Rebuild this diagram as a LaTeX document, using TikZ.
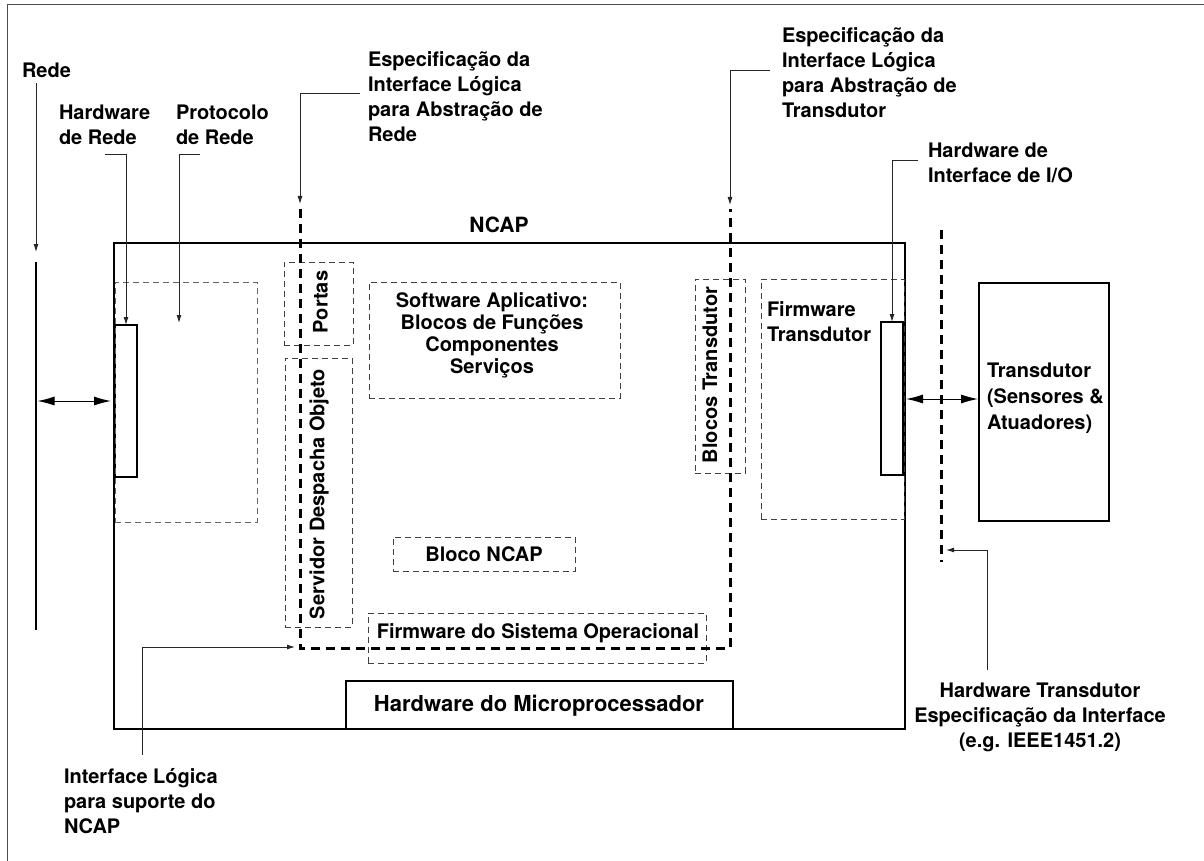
\documentclass[tikz,border=0pt]{standalone}
\usepackage{fontspec}
\setmainfont{TeX Gyre Heros}
\usetikzlibrary{arrows.meta,fit}
\begin{document}
\begin{tikzpicture}[x=1pt,y=-1pt,
  txt/.style={font=\bfseries\fontsize{20}{25}\selectfont, inner sep=0pt, outer sep=0pt},
  solidbox/.style={draw, line width=2pt, inner sep=0pt, outer sep=0pt},
  hwbox/.style={draw, line width=1.8pt, inner sep=0pt, outer sep=0pt},
  dashbox/.style={draw, black!75, line width=0.9pt, dash pattern=on 6pt off 4pt, inner sep=0pt, outer sep=0pt},
  thickdash/.style={line width=3pt, dash pattern=on 9pt off 6pt},
  conn/.style={draw, black!85, line width=0.9pt, -{Latex[length=8pt,width=5pt]}},
  biarrow/.style={line width=1pt, {Latex[length=17pt,width=9pt]}-{Latex[length=17pt,width=9pt]}}
]
\useasboundingbox (0,0) rectangle (1204,861);

% outer frame
\draw[black!70, line width=1pt] (7,861) -- (7,5) -- (1204,5);

% NCAP enclosure and its solid parts
\node[solidbox, fit={(114,243) (905,729)}] (ncap) {};
\node[hwbox, fit={(115,325) (137,477)}] (nethw) {};
\node[hwbox, fit={(881,322) (903,475)}] (iohw) {};
\node[solidbox, fit={(346,681) (733,729)}] (hwmp) {};
\node[draw, line width=1.2pt, inner sep=0pt, outer sep=0pt, fit={(979,283) (1109,521)}] (transd) {};

% dashed functional blocks
\node[dashbox, black!60, fit={(115,282) (257,522)}] (proto) {};
\node[dashbox, fit={(761,279) (904,519)}] (fwtr) {};
\node[dashbox, fit={(284,262) (353,345)}] (portas) {};
\node[dashbox, fit={(285,358) (352,627)}] (servidor) {};
\node[dashbox, fit={(369,282) (620,398)}] (swapp) {};
\node[dashbox, fit={(695,279) (745,473)}] (blocostr) {};
\node[dashbox, fit={(393,537) (575,571)}] (bloconcap) {};
\node[dashbox, fit={(368,613) (706,663)}] (fwos) {};

% network line
\coordinate (netTop) at (36,262);
\coordinate (netBot) at (36,630);
\draw[line width=2.5pt] (netTop) -- (netBot);

% logical interface boundaries (thick dashed)
\coordinate (nsTip) at (300,204);
\coordinate (nsStart) at (300,209);
\coordinate (nsCorner) at (300,648);
\coordinate (tsCorner) at (730,648);
\coordinate (tsStart) at (730,209);
\coordinate (tsTip) at (730,205);
\draw[thickdash] (nsStart) -- (nsCorner) -- (tsCorner) -- (tsStart);
\coordinate (hwiTop) at (941,230);
\coordinate (hwiBot) at (941,562);
\draw[thickdash] (hwiTop) -- (hwiBot);

% texts inside the NCAP
\node[txt, font=\bfseries\fontsize{21}{25}\selectfont, anchor=base] (tNcap) at (499,233) {NCAP};
\node[txt, rotate=90] (tPortas) at (320.5,302) {Portas};
\node[txt, rotate=90] (tServ) at (319,494) {Servidor Despacha Objeto};
\node[txt, rotate=90] (tBlocosTr) at (710,375) {Blocos Transdutor};
\node[txt, font=\bfseries\fontsize{20}{22}\selectfont, anchor=north, align=center] (tSw) at (492,293)
  {Software Aplicativo:\\Blocos de Funções\\Componentes\\Serviços};
\node[txt, anchor=north west, align=left] (tFwTr) at (767,302) {Firmware\\Transdutor};
\node[txt] (tBloco) at (484,554) {Bloco NCAP};
\node[txt] (tFwOs) at (538,633) {Firmware do Sistema Operacional};
\node[txt, font=\bfseries\fontsize{22}{25}\selectfont] (tHwMp) at (539,706) {Hardware do Microprocessador};
\node[txt, font=\bfseries\fontsize{20}{26}\selectfont, anchor=north west, align=left] (tTransd) at (987,363)
  {Transdutor\\(Sensores \&\\Atuadores)};

% outside labels
\node[txt, anchor=north west] (lRede) at (22,63) {Rede};
\node[txt, anchor=north west, align=left] (lHwRede) at (59,105) {Hardware\\de Rede};
\node[txt, anchor=north west, align=left] (lProto) at (176,105) {Protocolo\\de Rede};
\node[txt, anchor=north west, align=left] (lNetSpec) at (368,52)
  {Especificação da\\Interface Lógica\\para Abstração de\\Rede};
\node[txt, anchor=north west, align=left] (lTrSpec) at (782,28)
  {Especificação da\\Interface Lógica\\para Abstração de\\Transdutor};
\node[txt, anchor=north west, align=left] (lIoHw) at (928,143) {Hardware de\\Interface de I/O};
\node[txt, anchor=north west, align=left] (lSup) at (64,768)
  {Interface Lógica\\para suporte do\\NCAP};
\node[txt, anchor=north, align=center] (lHwTr) at (1040,683)
  {Hardware Transdutor\\Especificação da Interface\\(e.g. IEEE1451.2)};

% label connectors
\coordinate (redeFrom) at (36,83);
\coordinate (redeTip) at (36,252);
\draw[conn] (redeFrom) -- (redeTip);
\coordinate (hwRedeFrom) at (105,154);
\draw[conn] (hwRedeFrom) -| (nethw.north);
\coordinate (protoFrom) at (200,154);
\coordinate (protoTip) at (179,323);
\draw[conn] (protoFrom) -| (protoTip);
\coordinate (nsFrom) at (360,93);
\draw[conn] (nsFrom) -| (nsTip);
\coordinate (tsFrom) at (770,70);
\draw[conn] (tsFrom) -| (tsTip);
\coordinate (ioFrom) at (918,160);
\draw[conn] (ioFrom) -| (iohw.north);
\coordinate (supFrom) at (142,755);
\coordinate (supTip) at (295,647);
\draw[conn] (supFrom) |- (supTip);
\coordinate (hwTrFrom) at (987,670);
\coordinate (hwTrTip) at (946,550);
\draw[conn] (hwTrFrom) |- (hwTrTip);

% data exchange arrows
\draw[biarrow] (37.5,401) -- ([xshift=-4pt]nethw.west |- 0,401);
\draw[biarrow] ([xshift=3pt]iohw.east |- 0,399) -- ([xshift=-1pt]transd.west |- 0,399);
\end{tikzpicture}
\end{document}
